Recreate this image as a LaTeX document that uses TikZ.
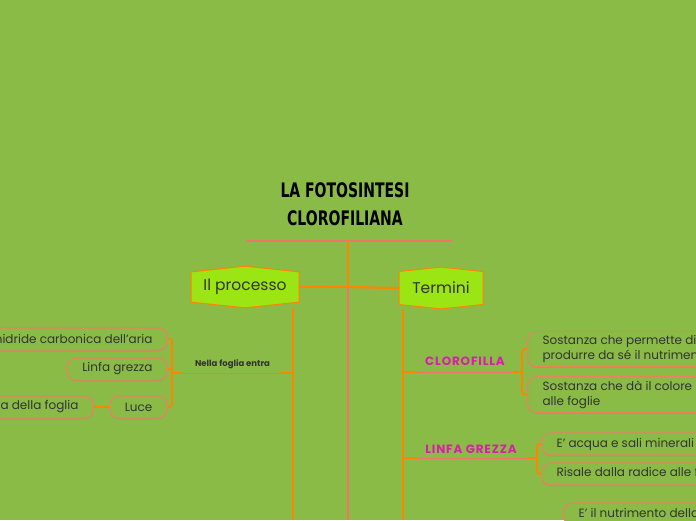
\documentclass[tikz,border=0pt]{standalone}
\usepackage{fontspec}
\setmainfont{Poppins}
\newfontfamily\titlefont{DejaVu Sans}
\usetikzlibrary{shapes.symbols,shadows}
\definecolor{leafgreen}{HTML}{8ABB47}
\definecolor{hexfill}{HTML}{9BE515}
\definecolor{trunk}{HTML}{FF8400}
\definecolor{coral}{HTML}{EF7566}
\definecolor{salmon}{HTML}{E9835F}
\definecolor{ink}{HTML}{333333}
\definecolor{keyword}{HTML}{D91FA8}
\begin{document}
\begin{tikzpicture}[x=1pt, y=-1pt,
    hexbox/.style={signal, signal to=north and south, signal pointer angle=168, draw=trunk, fill=hexfill, line width=1pt, minimum width=108pt, minimum height=39pt, inner sep=0pt, text=ink, font=\fontsize{15.5}{17}\selectfont},
    leaf/.style={draw=salmon, fill=leafgreen, line width=1.2pt, rounded corners=9pt, minimum height=22pt, inner xsep=15pt, inner ysep=4pt, text=ink, align=left, font=\fontsize{12}{15}\selectfont, drop shadow={shadow xshift=0pt, shadow yshift=-1.5pt, opacity=.2}},
    tag/.style={text=keyword, font=\bfseries\fontsize{12}{14}\selectfont\addfontfeature{LetterSpace=7}},
    branch/.style={trunk, line width=2.2pt},
    twig/.style={coral, line width=1pt},
    brace/.style={trunk, line width=1.8pt, rounded corners=3pt}]
    \useasboundingbox (0,0) rectangle (696,520);
    \fill[leafgreen] (0,0) rectangle (696,520);
    \clip (0,0) rectangle (696,520);
    \node[align=center, font=\titlefont\bfseries\fontsize{20}{28}\selectfont] (title) at (345,204) {\scalebox{.7}[1]{LA FOTOSINTESI}\\\scalebox{.7}[1]{CLOROFILIANA}};
    \coordinate (ruleL) at (246,241);
    \coordinate (ruleR) at (452,241);
    \coordinate (top) at (348,241);
    \coordinate (hub) at (348,287);
    \coordinate (foot) at (348,520);
    \draw[twig, line width=1.3pt] (ruleL) -- (ruleR);
    \node[hexbox] (proc) at (245,287) {Il processo};
    \node[hexbox, minimum width=84pt] (term) at (441,288) {Termini};
    \draw[branch] (top) -- (hub);
    \draw[twig, line width=2pt] (hub) -- (foot);
    \draw[branch] (proc.east) -- (hub) -- (term.west);
    % il processo
    \coordinate (procfoot) at (293,520);
    \draw[branch] (proc.south -| procfoot) -- (procfoot);
    \coordinate (entra) at (293,373);
    \coordinate (entraK) at (172,373);
    \draw[twig] (entra) -- node[above, text=ink, font=\bfseries\fontsize{8.5}{10}\selectfont]{Nella foglia entra} (entraK);
    \draw[branch, line width=2pt] (entra) -- +(-12,0);
    \draw[branch, line width=2pt] (entraK) -- +(10,0);
    \node[leaf, anchor=east] (anid) at (168,339) {Anidride carbonica dell’aria};
    \node[leaf, anchor=east] (linfa) at (168,369) {Linfa grezza};
    \node[leaf, anchor=east] (luce) at (168,407) {Luce};
    \node[leaf, anchor=east] (foglia) at (94,407) {Clorofilla della foglia};
    \draw[brace] (anid.east) -| (entraK) |- (luce.east);
    \draw[brace] (linfa.east) -- (linfa.east -| entraK);
    \draw[branch, line width=1.8pt] (luce) -- (foglia);
    % termini
    \coordinate (termfoot) at (403,520);
    \draw[branch] (term.south -| termfoot) -- (termfoot);
    \coordinate (cloro) at (403,372);
    \coordinate (cloroK) at (522,372);
    \draw[twig] (cloro) -- (cloroK);
    \draw[branch, line width=2pt] (cloro) -- +(15,0);
    \draw[branch, line width=2pt] (cloroK) -- +(-10,0);
    \node[tag] (clorotag) at (465,361) {CLOROFILLA};
    \node[leaf, anchor=west] (perm) at (527,349) {Sostanza che permette di\\produrre da sé il nutrimento};
    \node[leaf, anchor=west] (colore) at (527,394.5) {Sostanza che dà il colore\\alle foglie};
    \draw[brace] (perm.west) -| (cloroK) |- (colore.west);
    \coordinate (grezza) at (403,458);
    \coordinate (grezzaK) at (537,458);
    \draw[twig] (grezza) -- (grezzaK);
    \draw[branch, line width=2pt] (grezza) -- +(15,0);
    \draw[branch, line width=2pt] (grezzaK) -- +(-10,0);
    \node[tag] (grezzatag) at (471,449) {LINFA GREZZA};
    \node[leaf, anchor=west] (acqua) at (541,444) {E’ acqua e sali minerali};
    \node[leaf, anchor=west] (risale) at (541,474) {Risale dalla radice alle foglie};
    \draw[brace] (acqua.west) -| (grezzaK) |- (risale.west);
    \node[leaf, anchor=west] (nutri) at (563,514) {E’ il nutrimento della pianta};
\end{tikzpicture}
\end{document}
